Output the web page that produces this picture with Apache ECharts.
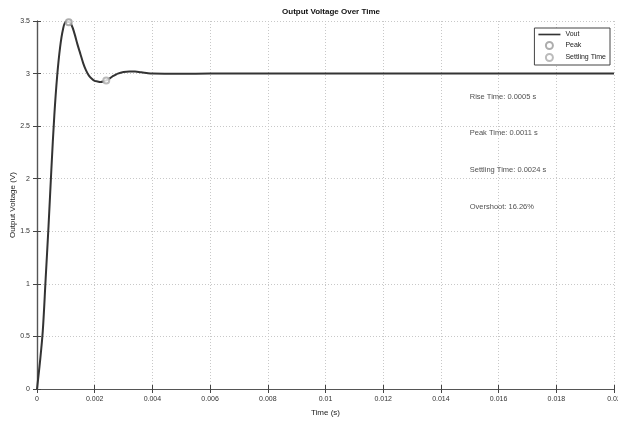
<!DOCTYPE html>
<html><head><meta charset="utf-8">
<script src="https://cdn.jsdelivr.net/npm/echarts@6/dist/echarts.min.js"></script>
<style>html,body{margin:0;padding:0;background:#fff}#c{width:618px;height:424px}</style>
</head><body><div id="c"></div>
<script>
const timeValues = [0,0.0001,0.0002,0.0003,0.0004,0.0005,0.0006,0.0007,0.0008,0.0009,0.001,0.0011,0.0012,0.0013,0.0014,0.0015,0.0016,0.0017,0.0018,0.0019,0.002,0.0021,0.0022,0.0023,0.0024,0.0025,0.0026,0.0027,0.0028,0.003,0.0032,0.0034,0.0036,0.0038,0.004,0.005,0.006,0.007,0.008,0.009,0.01,0.011,0.012,0.013,0.014,0.015,0.016,0.017,0.018,0.019,0.02];
const voutValues = [0,0.25,0.55,1.05,1.55,2.1,2.6,2.98,3.25,3.42,3.49,3.49,3.46,3.38,3.28,3.19,3.10,3.03,2.98,2.95,2.93,2.925,2.92,2.925,2.935,2.95,2.97,2.985,3.0,3.015,3.02,3.02,3.012,3.005,3.0,2.998,3.0,3.0,3.0,3.0,3.0,3.0,3.0,3.0,3.0,3.0,3.0,3.0,3.0,3.0,3.0];
const peakPoint = [0.0011, 3.488];
const settlingPoint = [0.0024, 2.935];
const annotationTexts = ['Rise Time: 0.0005 s','Peak Time: 0.0011 s','Settling Time: 0.0024 s','Overshoot: 16.26%'];
const annotationX = 0.015;
const annotationY = [2.78, 2.44, 2.08, 1.73];
const xTicks = {min:0, max:0.02, interval:0.002};
const yTicks = {min:0, max:3.5, interval:0.5};

const FONT = 'Liberation Sans, Arial, sans-serif';
const chart = echarts.init(document.getElementById('c'), null, {renderer:'canvas'});
const vout = timeValues.map((t,i)=>[t, voutValues[i]]);
const ann = annotationTexts.map((s,i)=>({value:[annotationX, annotationY[i]], name:s}));
const axLine = {show:true, lineStyle:{color:'#555', width:1.2}};
chart.setOption({
  backgroundColor:'#fff',
  animation:false,
  title:{text:'Output Voltage Over Time', left:326, top:3, textAlign:'center',
    textStyle:{fontFamily:FONT, fontSize:8, fontWeight:'bold', color:'#111'}},
  grid:{left:37, right:4, top:21, bottom:35, containLabel:false, outerBoundsMode:'none'},
  legend:{
    data:[{name:'Vout', icon:'path://M0,0L20,0L20,1.5L0,1.5Z'},{name:'Peak', icon:'emptyCircle'},{name:'Settling Time', icon:'emptyCircle'}],
    orient:'vertical', right:8, top:28, itemWidth:22, itemHeight:7, itemGap:3,
    padding:[3,4,3,4], backgroundColor:'#fff', borderColor:'#444', borderWidth:1, borderRadius:0,
    textStyle:{fontFamily:FONT, fontSize:7, color:'#222'}
  },
  xAxis:[
    {type:'value', min:xTicks.min, max:xTicks.max, interval:xTicks.interval,
     name:'Time (s)', nameLocation:'middle', nameGap:20, nameMoveOverlap:false,
     nameTextStyle:{fontFamily:FONT, fontSize:8, color:'#222'},
     axisLine:axLine, axisTick:{show:true, inside:true, length:4, lineStyle:{color:'#444'}},
     axisLabel:{fontFamily:FONT, fontSize:7, color:'#333', margin:7, formatter:v=>String(+v.toFixed(4))},
     splitLine:{show:true, lineStyle:{color:'#c8c8c8', type:[1,2], width:1}}},
    {type:'value', position:'top', min:xTicks.min, max:xTicks.max, interval:xTicks.interval,
     axisLine:axLine, axisTick:{show:true, inside:true, length:4, lineStyle:{color:'#444'}},
     axisLabel:{show:false}, splitLine:{show:false}}
  ],
  yAxis:[
    {type:'value', min:yTicks.min, max:yTicks.max, interval:yTicks.interval,
     name:'Output Voltage (V)', nameLocation:'middle', nameGap:20, nameMoveOverlap:false,
     nameTextStyle:{fontFamily:FONT, fontSize:8, color:'#222'},
     axisLine:axLine, axisTick:{show:true, inside:true, length:4, lineStyle:{color:'#444'}},
     axisLabel:{fontFamily:FONT, fontSize:7, color:'#333', margin:7},
     splitLine:{show:true, lineStyle:{color:'#c8c8c8', type:[1,2], width:1}}},
    {type:'value', position:'right', min:yTicks.min, max:yTicks.max, interval:yTicks.interval,
     axisLine:axLine, axisTick:{show:true, inside:true, length:4, lineStyle:{color:'#444'}},
     axisLabel:{show:false}, splitLine:{show:false}}
  ],
  series:[
    {name:'Vout', type:'line', data:vout, smooth:0.35, showSymbol:false, symbol:'none',
     lineStyle:{color:'#333', width:2}, itemStyle:{color:'#333'}, z:3},
    {name:'Peak', type:'scatter', data:[peakPoint], symbol:'emptyCircle', symbolSize:6,
     itemStyle:{color:'#999', borderColor:'#999', borderWidth:1}, z:4},
    {name:'Settling Time', type:'scatter', data:[settlingPoint], symbol:'emptyCircle', symbolSize:6,
     itemStyle:{color:'#aaa', borderColor:'#aaa', borderWidth:1}, z:4},
    {name:'annotations', type:'scatter', data:ann, symbolSize:0, silent:true,
     label:{show:true, position:'right', distance:0, formatter:p=>p.name,
       fontFamily:FONT, fontSize:7.5, color:'#222'}, z:5}
  ]
});
</script></body></html>
